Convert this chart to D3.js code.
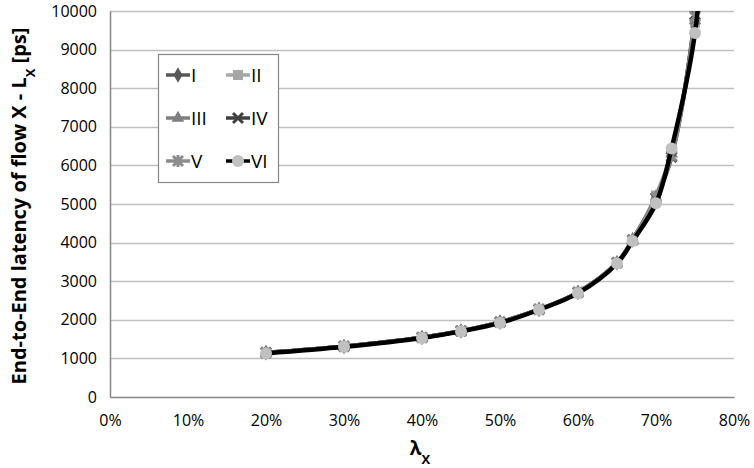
<!DOCTYPE html>
<html>
<head>
<meta charset="utf-8">
<script src="https://cdn.jsdelivr.net/npm/d3@7"></script>
<style>
body { margin: 0; background: #fff; }
text { font-family: "Open Sans", sans-serif; fill: #000; }
</style>
</head>
<body>
<div id="container"></div>
<script>
// load levels (fraction of capacity)
var lambdas = [0.20, 0.30, 0.40, 0.45, 0.50, 0.55, 0.60, 0.65, 0.67, 0.70, 0.72, 0.75, 0.76];
// latency values per configuration, ps
var serI   = [1150, 1310, 1540, 1710, 1940, 2270, 2710, 3480, 4070, 5180, 6300, 9800, 12500];
var serII  = [1150, 1310, 1540, 1710, 1940, 2270, 2710, 3480, 4070, 5220, 6350, 9700, 12400];
var serIII = [1150, 1310, 1540, 1710, 1940, 2270, 2710, 3480, 4070, 5180, 6300, 9750, 12500];
var serIV  = [1150, 1310, 1540, 1710, 1940, 2270, 2710, 3480, 4070, 5150, 6220, 9900, 12600];
var serV   = [1150, 1310, 1540, 1710, 1940, 2270, 2710, 3480, 4070, 5170, 6250, 9850, 12600];
var serVI  = [1130, 1300, 1530, 1700, 1920, 2260, 2690, 3460, 4040, 5020, 6440, 9430, 12000];
var seriesNames = ['I', 'II', 'III', 'IV', 'V', 'VI'];
var xTicks = [0, 0.1, 0.2, 0.3, 0.4, 0.5, 0.6, 0.7, 0.8];
var yTicks = [0, 1000, 2000, 3000, 4000, 5000, 6000, 7000, 8000, 9000, 10000];

function drawChart(id, width, height){
    var left = 110, right = 734, top = 11, bottom = 397;
    var svg = d3.select('#'+id).append('svg')
        .attr('width', width)
        .attr('height', height);

    var x = d3.scaleLinear().domain([0, 0.8]).range([left, right]);
    var y = d3.scaleLinear().domain([0, 10000]).range([bottom, top]);

    // gridlines
    svg.append('g').selectAll('line').data(yTicks.slice(1)).enter().append('line')
        .attr('x1', left).attr('x2', right)
        .attr('y1', function(d){ return Math.round(y(d))+0.5; })
        .attr('y2', function(d){ return Math.round(y(d))+0.5; })
        .attr('stroke', '#bfbfbf').attr('stroke-width', 1.5);

    // axes
    var yAxis = svg.append('g').attr('transform', 'translate('+left+',0)')
        .call(d3.axisLeft(y).tickValues(yTicks).tickSize(0).tickPadding(13)
            .tickFormat(d3.format('d')));
    var xAxis = svg.append('g').attr('transform', 'translate(0,'+bottom+')')
        .call(d3.axisBottom(x).tickValues(xTicks).tickSize(0).tickPadding(18)
            .tickFormat(d3.format('.0%')));
    [yAxis, xAxis].forEach(function(a){
        a.select('.domain').attr('stroke', '#868686').attr('stroke-width', 1.5);
        a.selectAll('text').style('font-size', '16px').attr('fill', '#000');
    });

    // axis titles
    var yt = svg.append('text')
        .attr('transform', 'translate(26,'+((top+bottom)/2 + 2)+') rotate(-90)')
        .attr('text-anchor', 'middle')
        .style('font-size', '20px').style('font-weight', 'bold')
        .text('End-to-End latency of flow X - L');
    yt.append('tspan').attr('baseline-shift', 'sub').style('font-size', '13px').text('X');
    yt.append('tspan').text(' [ps]');
    var xt = svg.append('text')
        .attr('x', 420).attr('y', 455)
        .attr('text-anchor', 'middle')
        .style('font-size', '19px').style('font-weight', 'bold')
        .text('\u03bb');
    xt.append('tspan').attr('baseline-shift', 'sub').style('font-size', '13px').text('X');

    svg.append('clipPath').attr('id', 'plotclip').append('rect')
        .attr('x', left).attr('y', top).attr('width', right-left).attr('height', bottom-top);

    var styles = [
        {line: '#595959', fill: '#595959', marker: 'diamond'},
        {line: '#a6a6a6', fill: '#a6a6a6', marker: 'square'},
        {line: '#7f7f7f', fill: '#7f7f7f', marker: 'triangle'},
        {line: '#404040', fill: '#404040', marker: 'x'},
        {line: '#8c8c8c', fill: '#8c8c8c', marker: 'star'},
        {line: '#000000', fill: '#c0c0c0', marker: 'circle'}
    ];
    var allSeries = [serI, serII, serIII, serIV, serV, serVI];

    var line = d3.line()
        .x(function(d){ return x(d[0]); })
        .y(function(d){ return y(d[1]); })
        .curve(d3.curveCatmullRom.alpha(0.5));

    function marker(g, type, cx, cy, st){
        if(type == 'diamond'){
            g.append('path').attr('d', d3.symbol(d3.symbolDiamond, 70)())
                .attr('transform', 'translate('+cx+','+cy+')').attr('fill', st.fill);
        }else if(type == 'square'){
            g.append('rect').attr('x', cx-5).attr('y', cy-5).attr('width', 10).attr('height', 10)
                .attr('fill', st.fill);
        }else if(type == 'triangle'){
            g.append('path').attr('d', d3.symbol(d3.symbolTriangle, 70)())
                .attr('transform', 'translate('+cx+','+cy+')').attr('fill', st.fill);
        }else if(type == 'x'){
            g.append('path').attr('d', 'M-5,-5L5,5M-5,5L5,-5')
                .attr('transform', 'translate('+cx+','+cy+')')
                .attr('stroke', st.fill).attr('stroke-width', 3);
        }else if(type == 'star'){
            g.append('path').attr('d', 'M-5,-5L5,5M-5,5L5,-5M0,-6L0,6')
                .attr('transform', 'translate('+cx+','+cy+')')
                .attr('stroke', st.fill).attr('stroke-width', 3);
        }else{
            g.append('circle').attr('cx', cx).attr('cy', cy).attr('r', 6)
                .attr('fill', st.fill);
        }
    }

    var plot = svg.append('g').attr('clip-path', 'url(#plotclip)');
    var i, j;
    for(i = 0; i < allSeries.length; i++){
        var pts = [];
        for(j = 0; j < lambdas.length; j++){
            pts.push([lambdas[j], allSeries[i][j]]);
        }
        plot.append('path').datum(pts)
            .attr('d', line)
            .attr('fill', 'none')
            .attr('stroke', styles[i].line)
            .attr('stroke-width', i == 5 ? 4.5 : 4);
        for(j = 0; j < pts.length; j++){
            marker(plot, styles[i].marker, x(pts[j][0]), y(pts[j][1]), styles[i]);
        }
    }

    // legend
    var lg = svg.append('g');
    lg.append('rect').attr('x', 158.5).attr('y', 54.5).attr('width', 120).attr('height', 128)
        .attr('fill', '#fff').attr('stroke', '#868686').attr('stroke-width', 1.2);
    for(i = 0; i < seriesNames.length; i++){
        var col = i % 2, row = Math.floor(i/2);
        var lx = 166 + col*60, ly = 75 + row*43;
        lg.append('line').attr('x1', lx).attr('x2', lx+24).attr('y1', ly).attr('y2', ly)
            .attr('stroke', styles[i].line).attr('stroke-width', 3.5);
        marker(lg, styles[i].marker, lx+12, ly, styles[i]);
        lg.append('text').attr('x', lx+25).attr('y', ly+7)
            .style('font-size', '19px').text(seriesNames[i]);
    }
}
drawChart('container', 754, 468);
</script>
</body>
</html>
